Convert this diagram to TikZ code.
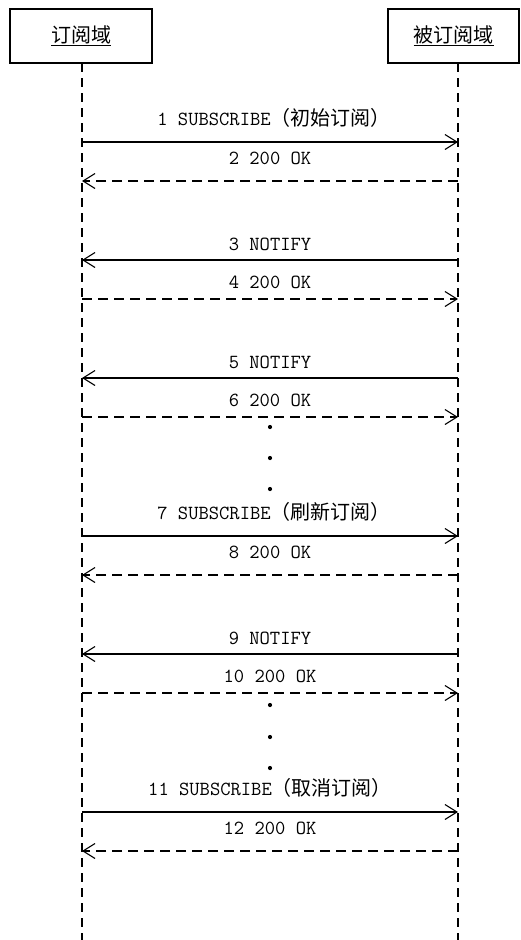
\documentclass[tikz,border=0pt]{standalone}
\usepackage{fontspec}
\newfontfamily\cjk{Noto Sans CJK SC}
\usepackage{tikz}
\usetikzlibrary{arrows.meta}

\newcommand{\hanzi}[1]{{\cjk\fontsize{20}{20}\selectfont #1}}

\tikzset{
    boite/.style={draw, line width=1.1pt, minimum height=54pt, inner sep=0pt},
    vie/.style={line width=1.1pt, dash pattern=on 9pt off 6pt},
    requete/.style={line width=1.1pt, -{Straight Barb[length=12pt,width=15pt,line width=1.1pt]}},
    reponse/.style={requete, dash pattern=on 10pt off 6pt},
    etiquette/.style={anchor=base, inner sep=0pt, font=\ttfamily\fontsize{20}{22}\selectfont},
}

\begin{document}
\begin{tikzpicture}[x=1pt, y=-1pt]
    \useasboundingbox (0,0) rectangle (520,940);

    % Les deux domaines
    \node[boite, minimum width=142pt] (abonne) at (81,36) {\hanzi{\underline{订阅域}}};
    \node[boite, minimum width=131pt] (source) at (453.5,36) {\hanzi{\underline{被订阅域}}};

    % Lignes de vie
    \coordinate (ga) at (82,63);
    \coordinate (gb) at (82,940);
    \coordinate (da) at (458,63);
    \coordinate (db) at (458,940);
    \draw[vie] (ga) -- (gb);
    \draw[vie] (da) -- (db);

    % Points d'ancrage des messages
    \foreach \i/\y in {1/142,2/181,3/260,4/299,5/378,6/417,7/536,8/575,9/654,10/693,11/812,12/851}{
        \coordinate (g\i) at (82,\y);
        \coordinate (d\i) at (458,\y);
    }

    % Abonnement initial
    \draw[requete] (g1) -- (d1);
    \node[etiquette] (m1) at (274,125) {1 SUBSCRIBE\hanzi{（初始订阅）}};
    \draw[reponse] (d2) -- (g2);
    \node[etiquette] (m2) at (270,164) {2 200 OK};

    % Notifications
    \draw[requete] (d3) -- (g3);
    \node[etiquette] (m3) at (270,250) {3 NOTIFY};
    \draw[reponse] (g4) -- (d4);
    \node[etiquette] (m4) at (270,288) {4 200 OK};
    \draw[requete] (d5) -- (g5);
    \node[etiquette] (m5) at (270,368) {5 NOTIFY};
    \draw[reponse] (g6) -- (d6);
    \node[etiquette] (m6) at (270,406) {6 200 OK};

    % Pointillés
    \foreach \y in {427,458,489,705,737,768}
        \fill (270,\y) circle (2.1);

    % Rafraîchissement
    \draw[requete] (g7) -- (d7);
    \node[etiquette] (m7) at (274,519) {7 SUBSCRIBE\hanzi{（刷新订阅）}};
    \draw[reponse] (d8) -- (g8);
    \node[etiquette] (m8) at (270,558) {8 200 OK};
    \draw[requete] (d9) -- (g9);
    \node[etiquette] (m9) at (270,644) {9 NOTIFY};
    \draw[reponse] (g10) -- (d10);
    \node[etiquette] (m10) at (270,682) {10 200 OK};

    % Fin de l'abonnement
    \draw[requete] (g11) -- (d11);
    \node[etiquette] (m11) at (270,795) {11 SUBSCRIBE\hanzi{（取消订阅）}};
    \draw[reponse] (d12) -- (g12);
    \node[etiquette] (m12) at (270,834) {12 200 OK};
\end{tikzpicture}
\end{document}
